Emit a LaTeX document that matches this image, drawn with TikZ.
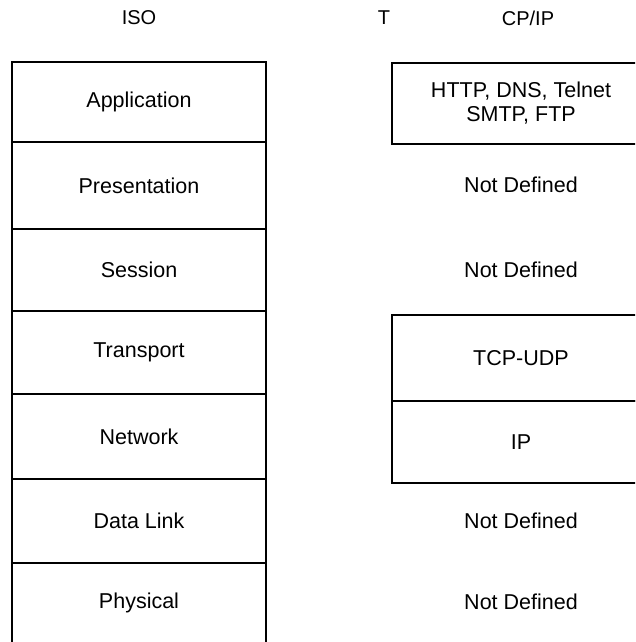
\documentclass[tikz,border=0pt]{standalone}
\usepackage{fontspec}
\setmainfont{Liberation Sans}
\begin{document}
\begin{tikzpicture}[x=1pt,y=-1pt,
  txt/.style={font=\fontsize{21.5}{24}\selectfont, align=center, inner sep=0pt},
  layer/.style={txt, draw, line width=1.3pt, minimum width=254pt},
  tcp/.style={txt, draw, line width=1.3pt, minimum width=258pt},
  hdr/.style={font=\fontsize{20}{24}\selectfont, inner sep=0pt}]
\clip (0,0) rectangle (635,642);
% headers
\node[hdr] (hiso) at (139,18) {ISO};
\node[hdr] (ht) at (384,18) {T};
\node[hdr] (hcp) at (528,18) {CP/IP};
% ISO stack
\node[layer, minimum height=80pt] (app) at (139,102) {Application};
\node[layer, minimum height=87pt] (pres) at (139,185.5) {Presentation};
\node[layer, minimum height=82pt] (sess) at (139,270) {Session};
\node[layer, minimum height=83pt] (trans) at (139,352.5) {Transport};
\node[layer, minimum height=85pt] (net) at (139,436.5) {Network};
\node[layer, minimum height=84pt] (dl) at (139,521) {Data Link};
\node[layer, minimum height=80pt] (phys) at (139,603) {Physical};
% TCP/IP stack
\node[tcp, minimum height=81pt] (http) at (521,103.5) {HTTP, DNS, Telnet\\SMTP, FTP};
\node[txt] (nd1) at (521,185) {Not Defined};
\node[txt] (nd2) at (521,270) {Not Defined};
\node[tcp, minimum height=86pt] (tcpudp) at (521,358) {TCP-UDP};
\node[tcp, minimum height=82pt] (ip) at (521,442) {IP};
\node[txt] (nd3) at (521,521) {Not Defined};
\node[txt] (nd4) at (521,602) {Not Defined};
\end{tikzpicture}
\end{document}
